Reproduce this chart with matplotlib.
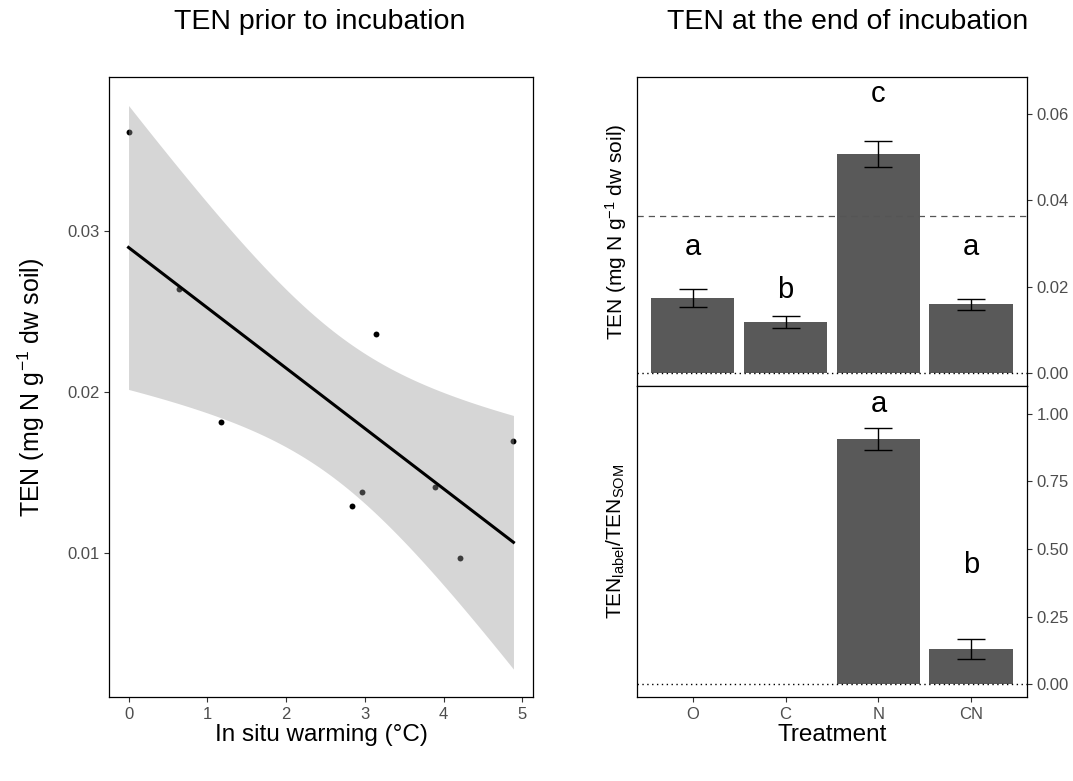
import matplotlib
matplotlib.use("Agg")
import matplotlib.pyplot as plt
import numpy as np

plt.rcParams['font.family'] = ['Liberation Sans', 'DejaVu Sans']
plt.rcParams['mathtext.default'] = 'regular'

# --- left panel: TEN before incubation vs warming
warming = [0.0, 0.643, 1.172, 3.145, 2.84, 2.964, 3.891, 4.213, 4.887]
ten_init = [0.0362, 0.0264, 0.01816, 0.0236, 0.01297, 0.0138, 0.01415, 0.0097, 0.0170]

# --- right panels: TEN at the end of incubation
treatments = ['O', 'C', 'N', 'CN']
ten_end = [0.01738, 0.01185, 0.0506, 0.0160]
ten_end_se = [0.0021, 0.00146, 0.0030, 0.0013]
ten_end_letters = ['a', 'b', 'c', 'a']
ten_end_letter_y = [0.0292, 0.0192, 0.0646, 0.0292]
ten_ref = 0.0363

ratio = [np.nan, np.nan, 0.907, 0.131]
ratio_se = [np.nan, np.nan, 0.039, 0.036]
ratio_letters = ['', '', 'a', 'b']
ratio_letter_y = [np.nan, np.nan, 1.035, 0.44]

BAR = '#595959'
TICKC = '#4D4D4D'

fig = plt.figure(figsize=(10.73, 7.81), dpi=100)

def style(ax):
    for s in ax.spines.values():
        s.set_linewidth(0.9)
        s.set_color('black')
    ax.tick_params(direction='out', length=3.5, width=0.8, color='#333333',
                   labelcolor=TICKC, labelsize=12)

# left: scatter + lm fit with 95% CI
ax1 = fig.add_axes([109.3 / 1073, 83.7 / 781, 423.4 / 1073, 620 / 781])
x = np.array(warming)
y = np.array(ten_init)
n = len(x)
b1, b0 = np.polyfit(x, y, 1)
xs = np.linspace(x.min(), x.max(), 80)
fit = b0 + b1 * xs
resid = y - (b0 + b1 * x)
s = np.sqrt(np.sum(resid ** 2) / (n - 2))
se = s * np.sqrt(1 / n + (xs - x.mean()) ** 2 / np.sum((x - x.mean()) ** 2))
t975 = 2.3646  # t quantile, df = 7
lo, hi = fit - t975 * se, fit + t975 * se
ax1.scatter(x, y, s=18, color='black', zorder=2, linewidths=0)
ax1.fill_between(xs, lo, hi, color='#999999', alpha=0.4, lw=0, zorder=3)
ax1.plot(xs, fit, color='black', lw=2.2, zorder=4)
# ggplot-like 5% expansion
xr = x.max() - x.min()
ax1.set_xlim(x.min() - 0.05 * xr, x.max() + 0.05 * xr)
ymin, ymax = min(lo.min(), y.min()), max(hi.max(), y.max())
yr = ymax - ymin
ax1.set_ylim(ymin - 0.05 * yr, ymax + 0.05 * yr)
ax1.set_xticks([0, 1, 2, 3, 4, 5])
ax1.set_yticks([0.01, 0.02, 0.03])
ax1.set_yticklabels(['0.01', '0.02', '0.03'])
style(ax1)
ax1.set_xlabel('In situ warming (°C)', fontsize=17.5)
ax1.xaxis.label.set_va('center')
ax1.xaxis.set_label_coords(0.5, -0.0613)
ax1.set_ylabel('TEN (mg N g$^{-1}$ dw soil)', fontsize=18)
ax1.yaxis.label.set_va('center')
ax1.yaxis.set_label_coords(-0.185, 0.5)

pos = np.arange(len(treatments))

# right top
ax2 = fig.add_axes([637 / 1073, 395 / 781, 390 / 1073, 309 / 781])
ax2.bar(pos, ten_end, width=0.9, color=BAR, zorder=1)
ax2.errorbar(pos, ten_end, yerr=ten_end_se, fmt='none', ecolor='black',
             elinewidth=1, capsize=10, capthick=1, zorder=3)
ax2.axhline(ten_ref, color='#555555', lw=0.9, ls=(0, (5, 4)), zorder=2)
ax2.axhline(0, color='black', lw=1, ls=(0, (1, 2.5)), zorder=2)
for p, lab, ly in zip(pos, ten_end_letters, ten_end_letter_y):
    ax2.text(p, ly, lab, ha='center', va='center', fontsize=21)
ax2.set_xlim(-0.6, 3.6)
ax2.set_ylim(-0.0029, 0.0685)
ax2.yaxis.tick_right()
ax2.set_yticks([0.0, 0.02, 0.04, 0.06])
ax2.set_yticklabels(['0.00', '0.02', '0.04', '0.06'])
style(ax2)
ax2.tick_params(bottom=False, labelbottom=False)
ax2.set_ylabel('TEN (mg N g$^{-1}$ dw soil)', fontsize=15)
ax2.yaxis.set_label_position('left')
ax2.yaxis.label.set_va('center')
ax2.yaxis.set_label_coords(-0.054, 0.5)

# right bottom
ax3 = fig.add_axes([637 / 1073, 84 / 781, 390 / 1073, 311 / 781])
ax3.bar(pos, ratio, width=0.9, color=BAR, zorder=1)
ax3.errorbar(pos, ratio, yerr=ratio_se, fmt='none', ecolor='black',
             elinewidth=1, capsize=10, capthick=1, zorder=3)
ax3.axhline(0, color='black', lw=1, ls=(0, (1, 2.5)), zorder=2)
for p, lab, ly in zip(pos, ratio_letters, ratio_letter_y):
    if lab:
        ax3.text(p, ly, lab, ha='center', va='center', fontsize=21)
ax3.set_xlim(-0.6, 3.6)
ax3.set_ylim(-0.047, 1.103)
ax3.yaxis.tick_right()
ax3.set_yticks([0.0, 0.25, 0.5, 0.75, 1.0])
ax3.set_yticklabels(['0.00', '0.25', '0.50', '0.75', '1.00'])
ax3.set_xticks(pos)
ax3.set_xticklabels(treatments)
style(ax3)
ax3.set_ylabel('TEN$_{label}$/TEN$_{SOM}$', fontsize=15)
ax3.yaxis.set_label_position('left')
ax3.yaxis.label.set_va('center')
ax3.yaxis.set_label_coords(-0.054, 0.5)
ax3.set_xlabel('Treatment', fontsize=17.5)
ax3.xaxis.label.set_va('center')
ax3.xaxis.set_label_coords(0.5, -0.122)

fig.text(320 / 1073, 1 - 22 / 781, 'TEN prior to incubation', ha='center',
         va='center', fontsize=20.5)
fig.text(848 / 1073, 1 - 22 / 781, 'TEN at the end of incubation', ha='center',
         va='center', fontsize=20.5)

fig.savefig('out.png', dpi=100)
